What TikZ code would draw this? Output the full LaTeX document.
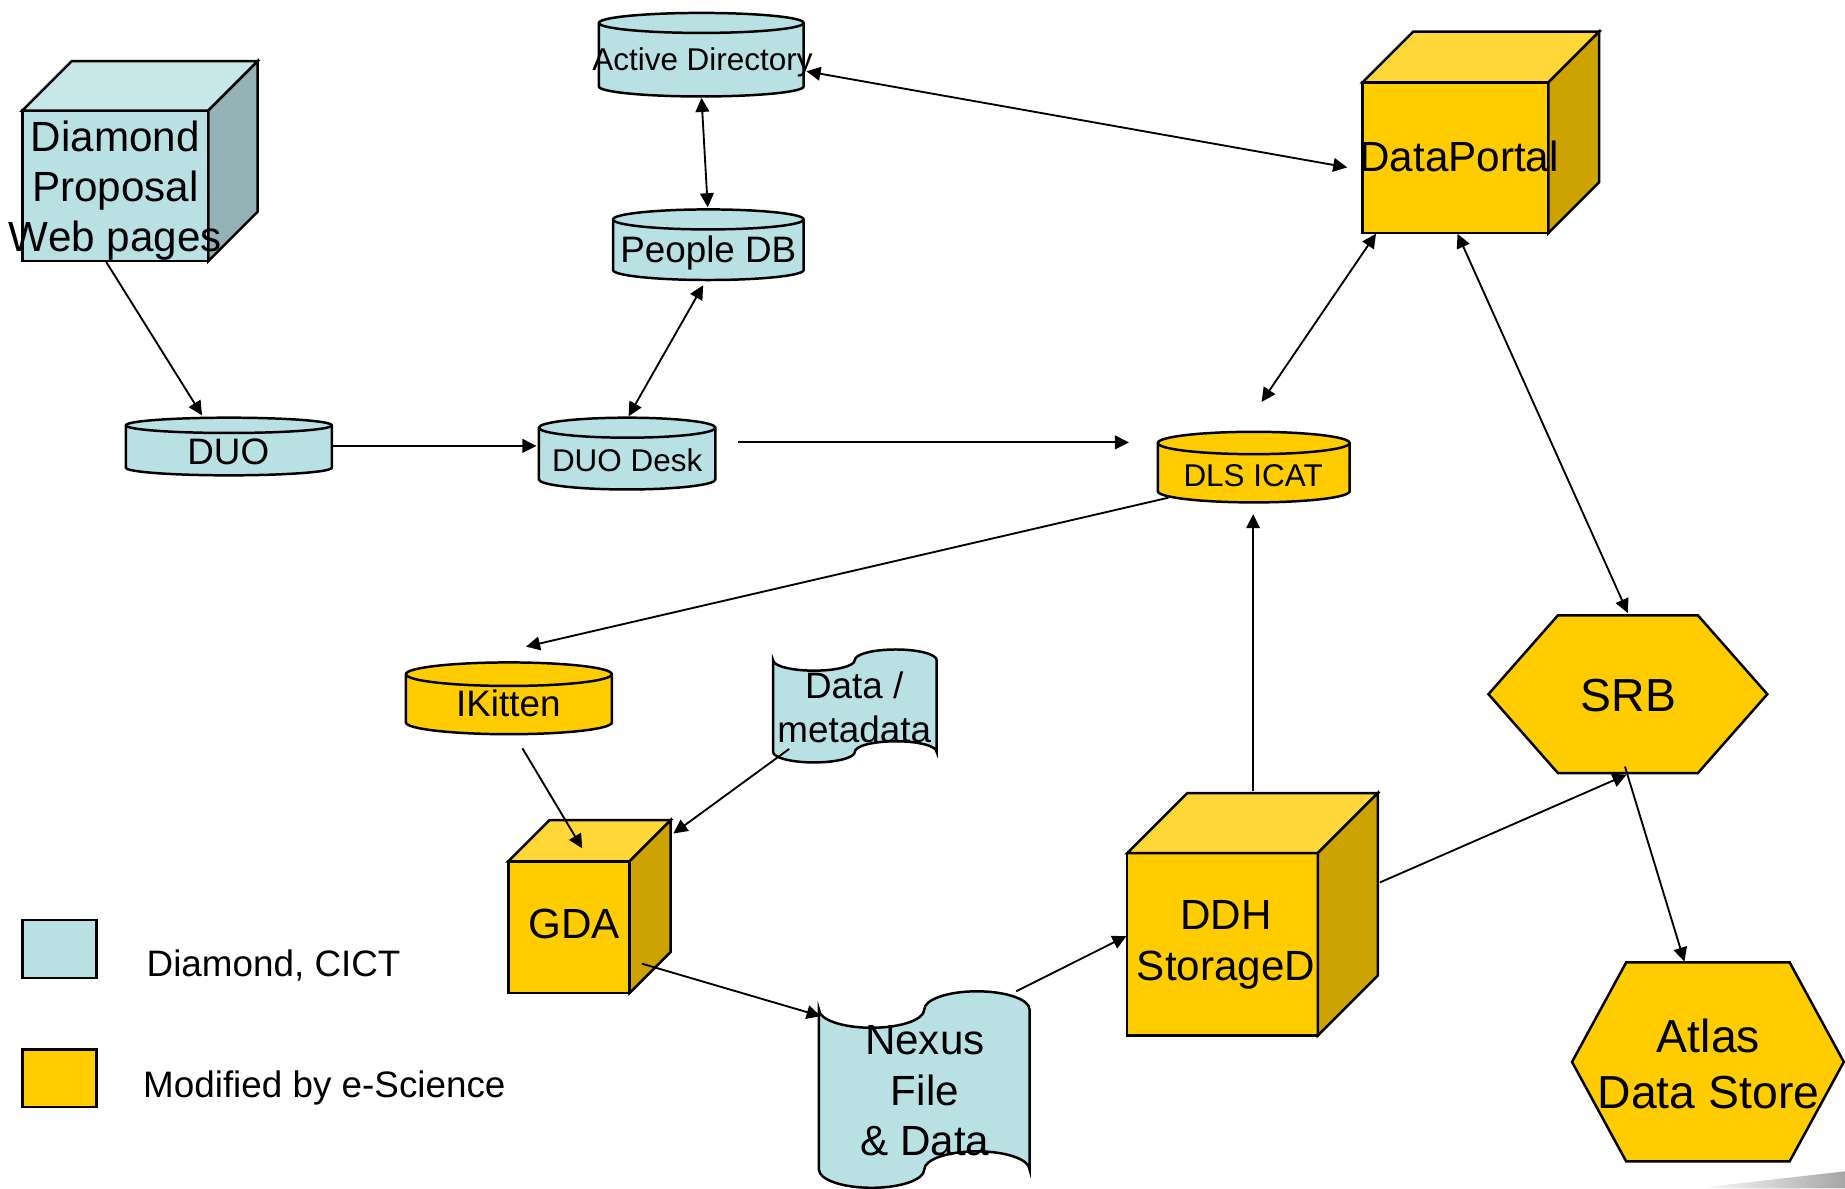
\documentclass[tikz,border=0pt]{standalone}
\usepackage{fontspec}
\setmainfont{Liberation Sans}
\usetikzlibrary{arrows.meta,calc}
\definecolor{cict}{RGB}{185,224,227}
\definecolor{sci}{RGB}{255,204,0}

\begin{document}
\begin{tikzpicture}[x=0.01cm,y=0.01cm,>={Triangle[length=3.4pt,width=3.3pt]}]
\tikzstyle{outline}=[draw,line width=0.6pt]
\tikzstyle{link}=[line width=0.45pt]
\tikzstyle{txt}=[inner sep=0pt,align=center]
\tikzstyle{bigtxt}=[txt,font=\fontsize{10.2}{12.2}\selectfont]
\tikzstyle{hugetxt}=[txt,font=\fontsize{11.2}{13.6}\selectfont]
\tikzstyle{midtxt}=[txt,font=\fontsize{8.9}{10.5}\selectfont]
\tikzstyle{smalltxt}=[txt,font=\fontsize{7.6}{9}\selectfont]

\useasboundingbox (0,0) rectangle (1568,1010);

% boxes
\foreach \x/\y/\w/\h/\d/\c in {19/788/158/128/42/cict, 1158/812/158/128/43/sci, 432/166/103/112/35/sci, 958/130/162/155/51/sci}
{
  \draw[outline,fill=\c] (\x,\y) rectangle ++(\w,\h);
  \draw[outline,fill=\c!78!white] (\x,\y+\h) -- ++(\d,\d) -- ++(\w,0) -- ++(-\d,-\d) -- cycle;
  \draw[outline,fill=\c!80!black] (\x+\w,\y) -- (\x+\w,\y+\h) -- ++(\d,\d) -- ++(0,-\h) -- cycle;
}

% databases
\foreach \x/\y/\w/\h/\r/\c in {509/928/174/71/8.5/cict, 521/772/162/60/8.5/cict, 107/606/175/49/6.5/cict, 458/594/150/61/8.5/cict, 984/583/163/60/9.5/sci, 345/386/175/61/10/sci}
{
  \draw[outline,fill=\c] (\x,\y+\h-\r) -- (\x,\y+\r) arc[start angle=180,end angle=360,x radius=\w/2,y radius=\r]
    -- (\x+\w,\y+\h-\r) arc[start angle=0,end angle=180,x radius=\w/2,y radius=\r] -- cycle;
  \draw[outline] (\x,\y+\h-\r) arc[start angle=180,end angle=360,x radius=\w/2,y radius=\r];
}

% tapes
\foreach \x/\y/\w/\h/\a in {657/371/139/78/9, 696/16/179/136/15.5}
{
  \draw[outline,fill=cict] (\x,\y+\h) arc[start angle=180,end angle=360,x radius=\w/4,y radius=\a]
    arc[start angle=180,end angle=0,x radius=\w/4,y radius=\a] -- (\x+\w,\y)
    arc[start angle=0,end angle=180,x radius=\w/4,y radius=\a]
    arc[start angle=0,end angle=-180,x radius=\w/4,y radius=\a] -- cycle;
}

% hexagons
\draw[outline,fill=sci] (1265,420) -- (1324,487) -- (1443,487) -- (1502,420) -- (1443,353) -- (1324,353) -- cycle;
\draw[outline,fill=sci] (1336,107.5) -- (1382,192) -- (1521,192) -- (1567,107.5) -- (1521,23) -- (1382,23) -- cycle;

% key
\draw[outline,fill=cict] (19,179) rectangle (82,228);
\draw[outline,fill=sci] (19,69) rectangle (82,118);

\shade[left color=white,right color=black!35] (1440,0) -- (1568,14.5) -- (1568,0) -- cycle;

\node[bigtxt] (web) at (98,848) {Diamond\\Proposal\\Web pages};
\node[bigtxt] (portal) at (1240,877) {DataPortal};
\node[bigtxt] (gda) at (488,225) {GDA};
\node[bigtxt] (ddh) at (1042,207) {DDH\\StorageD};
\node[bigtxt] (nexus) at (786,83) {Nexus\\File\\\& Data};
\node[hugetxt] (srb) at (1384,419) {SRB};
\node[hugetxt] (atlas) at (1452,106) {Atlas\\Data Store};
\node[midtxt] (meta) at (726,409) {Data /\\metadata};
\node[smalltxt] (adir) at (597,957) {Active Directory};
\node[midtxt] (people) at (602,795) {People DB};
\node[midtxt] (duo) at (194,626) {DUO};
\node[smalltxt] (desk) at (533,619) {DUO Desk};
\node[smalltxt] (icat) at (1065,606) {DLS ICAT};
\node[midtxt] (kitten) at (432,412) {IKitten};
\node[midtxt,anchor=west] (cictkey) at (124,189) {Diamond, CICT};
\node[midtxt,anchor=west] (scikey) at (121,85) {Modified by e-Science};

\draw[link,->] ($(web)+(-7.7,-60.7)$) -- ($(duo)+(-22.3,31)$);
\draw[link,->] ($(duo)+(88.5,5)$) -- ($(desk)+(-77,12)$);
\draw[link,<->] ($(desk)+(1.2,37.2)$) -- ($(people)+(-4.4,-27.4)$);
\draw[link,<->] ($(people)+(-0.5,38.8)$) -- ($(adir)+(-0.8,-30.2)$);
\draw[link,<->] ($(adir)+(88.4,-7.6)$) -- ($(portal)+(-95,-9.3)$);
\draw[link,->] ($(desk)+(94,15)$) -- ($(icat)+(-105.5,28)$);
\draw[link,<->] ($(portal)+(-70.6,-65.7)$) -- ($(icat)+(7.2,62.4)$);
\draw[link,<->] ($(portal)+(-1.3,-65.7)$) -- ($(srb)+(-0.6,70)$);
\draw[link,->] ($(icat)+(-72,-19)$) -- ($(kitten)+(15,48.4)$);
\draw[link,->] ($(kitten)+(12,-38)$) -- ($(gda)+(6.8,64)$);
\draw[link,->] ($(meta)+(-55.3,-35.5)$) -- ($(gda)+(84.3,76.6)$);
\draw[link,->] ($(gda)+(57.5,-34)$) -- ($(nexus)+(-88.5,63.4)$);
\draw[link,->] ($(nexus)+(77.6,84.5)$) -- ($(ddh)+(-84.6,7.5)$);
\draw[link,->] ($(ddh)+(23,131)$) -- ($(icat)+(0,-33)$);
\draw[link,->] ($(ddh)+(130.7,53)$) -- ($(srb)+(-1.6,-67.4)$);
\draw[link,->] ($(srb)+(-3,-60.5)$) -- ($(atlas)+(-20.5,86.8)$);

\end{tikzpicture}
\end{document}
